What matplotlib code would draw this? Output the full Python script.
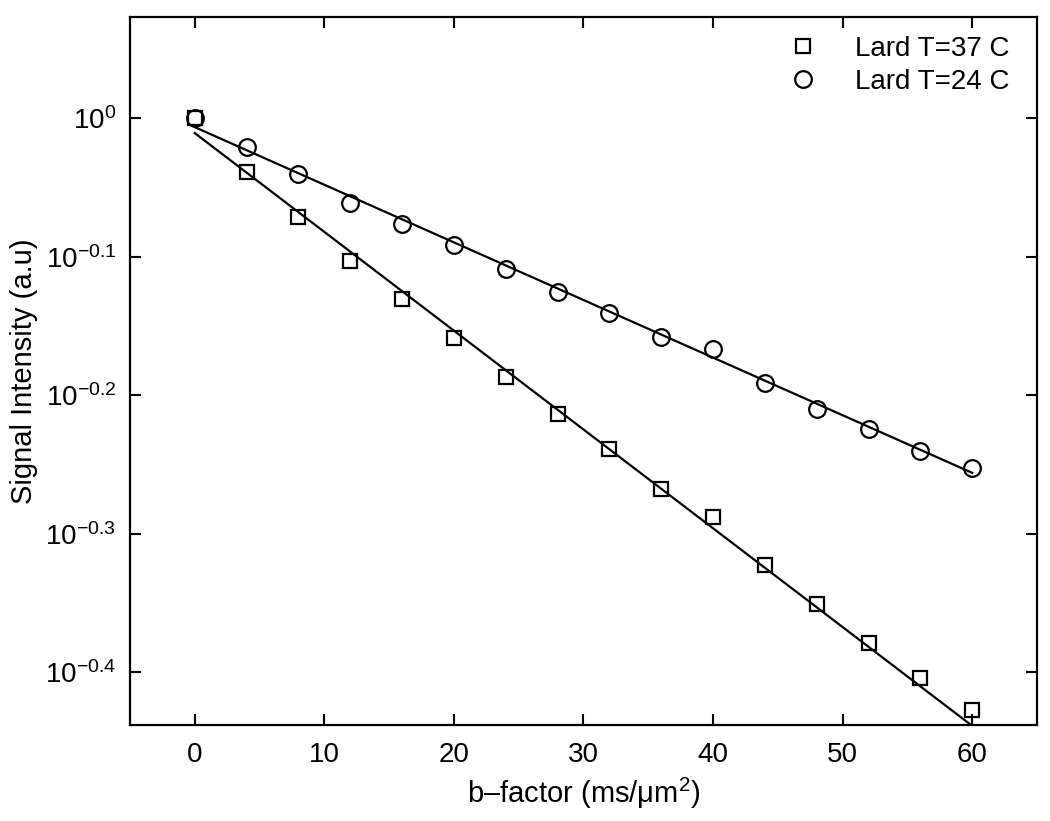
import matplotlib
matplotlib.use('Agg')
import matplotlib.pyplot as plt
import numpy as np

plt.rcParams['font.family'] = ['Liberation Sans', 'DejaVu Sans']
plt.rcParams['mathtext.fontset'] = 'custom'
plt.rcParams['mathtext.rm'] = 'Liberation Sans'
plt.rcParams['mathtext.it'] = 'Liberation Sans:italic'
plt.rcParams['mathtext.bf'] = 'Liberation Sans:bold'

# b-factor (ms/um^2)
b_vals = [0, 4, 8, 12, 16, 20, 24, 28, 32, 36, 40, 44, 48, 52, 56, 60]

# log10 of signal intensity
log_37 = [0.0, -0.039, -0.0715, -0.1033, -0.1307, -0.1588, -0.1866, -0.2135,
          -0.239, -0.2679, -0.2876, -0.3225, -0.3509, -0.3786, -0.4043, -0.4272]
log_24 = [0.0, -0.0209, -0.0404, -0.0614, -0.0763, -0.0917, -0.109, -0.1252,
          -0.1408, -0.1577, -0.1666, -0.1909, -0.2099, -0.2243, -0.240, -0.2523]

# fitted lines (log10 values at the ends)
fit_b = [0, 60]
fit_37 = [-0.0108, -0.4386]
fit_24 = [-0.0065, -0.256]

ytick_exp = [0, -0.1, -0.2, -0.3, -0.4]
ytick_lab = [r'$10^{0}$', r'$10^{-0.1}$', r'$10^{-0.2}$', r'$10^{-0.3}$', r'$10^{-0.4}$']
xtick_vals = [0, 10, 20, 30, 40, 50, 60]

sig_37 = 10 ** np.array(log_37)
sig_24 = 10 ** np.array(log_24)

fig = plt.figure(figsize=(10.5, 8.21), dpi=100)
ax = fig.add_axes([0.1238, 0.1169, 0.8638, 0.8624])

ax.plot(fit_b, 10 ** np.array(fit_37), color='black', lw=1.6)
ax.plot(fit_b, 10 ** np.array(fit_24), color='black', lw=1.6)
ax.plot(b_vals, sig_37, ls='none', marker='s', ms=10, mfc='none', mec='black', mew=1.6,
        label='Lard T=37 C')
ax.plot(b_vals, sig_24, ls='none', marker='o', ms=12, mfc='none', mec='black', mew=1.6,
        label='Lard T=24 C')

ax.set_yscale('log')
ax.set_xlim(-5, 65)
ax.set_ylim(10 ** -0.438, 10 ** 0.073)
ax.set_yticks([10 ** e for e in ytick_exp])
ax.set_yticklabels(ytick_lab)
ax.yaxis.set_minor_locator(matplotlib.ticker.NullLocator())
ax.set_xticks(xtick_vals)

ax.tick_params(direction='in', length=8, width=1.5, top=True, right=True, labelsize=20)
ax.tick_params(axis='x', pad=12)
ax.tick_params(axis='y', pad=10)
for s in ax.spines.values():
    s.set_linewidth(1.6)

ax.set_xlabel('b\u2013factor (ms/\u03bcm$^2$)', fontsize=21, labelpad=6)
ax.set_ylabel('Signal Intensity (a.u)', fontsize=21, labelpad=5)

ax.legend(loc='upper right', bbox_to_anchor=(0.970, 0.973), frameon=False, fontsize=20,
          borderpad=0, borderaxespad=0, handlelength=2, handletextpad=0.87,
          labelspacing=0.25)

fig.savefig('out.png', dpi=100)
